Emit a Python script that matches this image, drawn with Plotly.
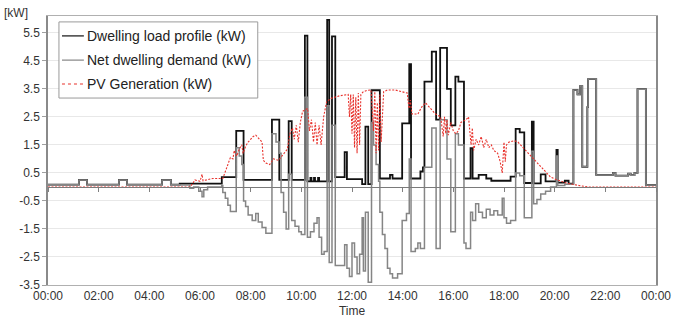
import plotly.graph_objects as go

# ---------------- data (hours of day, kW) ----------------
X_TICK_HOURS = [0, 2, 4, 6, 8, 10, 12, 14, 16, 18, 20, 22, 24]
X_TICK_LABELS = ["00:00", "02:00", "04:00", "06:00", "08:00", "10:00", "12:00",
                 "14:00", "16:00", "18:00", "20:00", "22:00", "00:00"]
Y_TICKS = [-3.5, -2.5, -1.5, -0.5, 0.5, 1.5, 2.5, 3.5, 4.5, 5.5]
Y_TICK_LABELS = ["-3.5", "-2.5", "-1.5", "-0.5", "0.5", "1.5", "2.5", "3.5", "4.5", "5.5"]
SERIES_NAMES = ["Dwelling load profile (kW)", "Net dwelling demand (kW)", "PV Generation (kW)"]

LOAD = [(0, 0.08), (1.22, 0.25), (1.54, 0.08), (2.80, 0.25), (3.12, 0.08), (4.50, 0.25),
        (4.85, 0.08), (5.20, 0.12), (6.86, 0.35), (7.43, 2.00), (7.72, 0.25), (8.84, 2.40),
        (9.13, 0.25), (9.50, 2.35), (9.62, 0.25), (10.14, 5.40), (10.24, 0.20), (10.36, 0.32),
        (10.40, 0.20), (10.50, 0.32), (10.54, 0.20), (10.66, 0.32), (10.70, 0.20), (11.02, 5.96),
        (11.10, 0.20), (11.21, 5.37), (11.34, 0.35), (11.71, 1.24), (11.80, 0.28), (12.40, 0.10),
        (12.53, 2.15), (12.64, 0.10), (12.77, 3.45), (13.10, 0.30), (13.50, 0.43), (13.60, 0.30),
        (13.98, 2.27), (14.26, 4.38), (14.33, 0.30), (14.70, 0.55), (14.80, 0.70), (14.86, 3.76),
        (15.15, 4.83), (15.32, 2.40), (15.48, 4.96), (15.75, 3.50), (15.90, 2.20), (16.08, 3.94),
        (16.20, 3.76), (16.42, 0.30), (16.68, 1.38), (16.76, 0.30), (17.00, 0.43), (17.30, 0.30),
        (17.50, 0.22), (18.26, 0.37), (18.46, 2.07), (18.62, 1.95), (18.80, 0.14), (19.10, 2.33),
        (19.17, 0.13), (19.45, 0.45), (19.64, 0.20), (20.07, 1.32), (20.12, 0.15), (20.40, 0.22),
        (20.55, 0.12), (20.74, 3.46), (20.90, 3.30), (21.00, 3.60), (21.09, 0.72), (21.29, 2.85),
        (21.32, 3.85), (21.64, 0.43), (22.30, 0.50), (22.40, 0.40), (22.90, 0.47), (23.00, 0.42),
        (23.15, 0.50), (23.27, 3.49), (23.60, 0.07), (24.0, 0.07)]

NET = [(0, 0.08), (1.22, 0.25), (1.54, 0.08), (2.80, 0.25), (3.12, 0.08), (4.50, 0.25),
       (4.85, 0.08), (5.20, 0.07), (5.60, -0.05), (5.75, 0.0), (5.95, -0.15), (6.08, -0.35),
       (6.15, -0.10), (6.30, 0.0), (6.86, 0.05), (6.90, -0.20), (7.00, -0.40), (7.10, -0.65),
       (7.20, -0.88), (7.43, 1.40), (7.55, 1.10), (7.65, 0.80), (7.72, -0.50), (7.80, -0.70),
       (7.90, -1.00), (8.06, -1.20), (8.20, -0.95), (8.30, -1.25), (8.45, -1.45), (8.60, -1.65),
       (8.84, 1.90), (9.00, 1.60), (9.13, 1.20), (9.20, -0.20), (9.30, -0.90), (9.40, -1.50),
       (9.50, 0.45), (9.62, -1.20), (9.75, -1.40), (9.90, -1.60), (10.00, -1.70), (10.14, 3.20),
       (10.24, -1.80), (10.36, -1.60), (10.50, -1.30), (10.62, -1.10), (10.70, -1.80), (10.80, -2.40),
       (10.90, -2.30), (11.02, 2.90), (11.10, -2.70), (11.21, 2.20), (11.34, -2.80), (11.71, -2.06),
       (11.80, -2.90), (11.90, -3.20), (12.00, -2.00), (12.10, -2.50), (12.20, -3.10), (12.30, -2.40),
       (12.40, -1.10), (12.45, -3.00), (12.53, -0.90), (12.64, -3.40), (12.77, 2.30), (12.85, 1.50),
       (12.95, 0.80), (13.05, 0.20), (13.10, -0.90), (13.20, -1.70), (13.30, -2.20), (13.40, -2.90),
       (13.50, -3.10), (13.60, -3.25), (13.80, -3.10), (13.98, -1.20), (14.15, -0.95), (14.26, 1.00),
       (14.33, -2.30), (14.50, -2.20), (14.60, -2.00), (14.70, -2.20), (14.86, 0.70), (15.15, 2.10),
       (15.32, -2.20), (15.48, 2.40), (15.75, 1.00), (15.90, -1.60), (16.08, 1.90), (16.20, 1.50),
       (16.42, -2.00), (16.50, -2.20), (16.68, -0.90), (16.76, -1.20), (16.88, -0.60), (17.00, -0.90),
       (17.15, -1.10), (17.30, -0.80), (17.45, -1.00), (17.60, -0.85), (17.75, -1.00), (17.93, -0.40),
       (18.00, -1.10), (18.10, -1.30), (18.26, -1.20), (18.46, 0.50), (18.62, 0.40), (18.80, -1.10),
       (19.10, 1.27), (19.17, -0.60), (19.30, -0.45), (19.45, -0.25), (19.64, -0.15), (19.84, 0.0),
       (20.07, 1.10), (20.12, 0.05), (20.40, 0.10), (20.55, 0.10), (20.74, 3.46), (20.90, 3.30),
       (21.00, 3.60), (21.09, 0.72), (21.29, 2.85), (21.32, 3.85), (21.64, 0.43), (22.30, 0.50),
       (22.40, 0.40), (22.90, 0.47), (23.00, 0.42), (23.15, 0.50), (23.27, 3.49), (23.60, 0.07),
       (24.0, 0.07)]

PV = [(0, 0.0), (5.60, 0.0), (5.70, 0.10), (5.80, 0.25), (6.00, 0.20), (6.08, 0.45), (6.12, 0.22),
      (6.50, 0.30), (6.90, 0.30), (7.00, 0.55), (7.10, 0.80), (7.20, 1.05), (7.30, 1.00), (7.35, 1.30),
      (7.45, 1.10), (7.55, 1.35), (7.65, 1.50), (7.70, 1.20), (7.80, 1.45), (7.90, 1.60), (8.10, 1.80),
      (8.20, 1.85), (8.35, 1.70), (8.45, 1.60), (8.50, 0.95), (8.60, 0.85), (8.75, 0.80), (8.90, 1.00),
      (9.10, 0.95), (9.30, 1.20), (9.45, 1.35), (9.55, 1.90), (9.65, 2.10), (9.72, 1.70), (9.80, 2.20),
      (9.88, 1.60), (9.96, 2.30), (10.05, 2.70), (10.25, 2.80), (10.32, 2.00), (10.40, 2.40),
      (10.48, 1.60), (10.55, 2.30), (10.62, 1.50), (10.70, 2.20), (10.78, 1.50), (10.88, 2.50),
      (11.00, 3.05), (11.20, 3.17), (11.50, 3.25), (11.85, 3.30), (11.90, 2.50), (11.95, 3.30),
      (12.00, 1.90), (12.05, 3.30), (12.10, 1.40), (12.15, 3.20), (12.20, 1.20), (12.25, 3.35),
      (12.30, 1.50), (12.35, 3.30), (12.45, 3.40), (12.60, 3.45), (12.75, 3.46), (12.85, 2.00),
      (12.90, 3.40), (12.95, 1.20), (13.00, 3.00), (13.05, 1.30), (13.10, 3.30), (13.15, 1.60),
      (13.25, 3.40), (13.40, 3.46), (13.70, 3.46), (14.00, 3.40), (14.18, 3.35), (14.25, 2.80),
      (14.30, 3.10), (14.37, 2.60), (14.60, 2.60), (14.75, 2.85), (14.90, 3.00), (15.10, 2.80),
      (15.30, 2.60), (15.50, 2.50), (15.60, 1.80), (15.65, 2.50), (15.70, 1.90), (15.75, 2.40),
      (15.80, 1.85), (15.90, 2.30), (16.00, 2.00), (16.10, 1.90), (16.20, 2.00), (16.30, 2.30),
      (16.50, 2.40), (16.60, 2.50), (16.70, 1.50), (16.75, 2.10), (16.80, 1.30), (16.90, 1.70),
      (17.00, 1.50), (17.10, 1.80), (17.20, 1.40), (17.30, 1.70), (17.40, 1.40), (17.50, 1.50),
      (17.60, 1.30), (17.75, 1.20), (17.85, 0.90), (17.93, 0.50), (18.00, 1.60), (18.05, 0.90),
      (18.10, 1.50), (18.20, 1.60), (18.40, 1.65), (18.55, 1.60), (19.10, 1.06), (19.50, 0.70),
      (19.84, 0.35), (20.10, 0.25), (20.50, 0.13), (21.03, 0.04), (21.30, 0.0), (24.0, 0.0)]

# ---------------- figure ----------------
FONT = "Arial, 'Liberation Sans', sans-serif"
Y_MIN, Y_MAX = -3.5, 6.1
COLORS = ["#111111", "#858585", "#e8322c"]
WIDTHS = [1.8, 1.5, 1.1]
DASHES = ["solid", "solid", "2px,1.5px"]
SHAPES = ["hv", "hv", "linear"]


def split(pairs):
    return [p[0] for p in pairs], [p[1] for p in pairs]


fig = go.Figure()
for pairs, name, col, w, d, sh in zip([LOAD, NET, PV], SERIES_NAMES, COLORS, WIDTHS, DASHES, SHAPES):
    xs, ys = split(pairs)
    fig.add_trace(go.Scatter(x=xs, y=ys, mode="lines", name=name,
                             line=dict(color=col, width=w, dash=d, shape=sh)))

# helper trace so the zero-crossing axis (with its tick marks) is rendered
fig.add_trace(go.Scatter(x=[0, 24], y=[None, None], xaxis="x2", mode="lines",
                         showlegend=False, hoverinfo="skip"))

zero_pos = (0 - Y_MIN) / (Y_MAX - Y_MIN)

# ---- hand-drawn legend (paper coordinates of the plot area) ----
shapes = [dict(type="rect", xref="paper", yref="paper", x0=0.018, x1=0.345, y0=0.695, y1=0.978,
               line=dict(color="#9a9a9a", width=1), fillcolor="white", layer="above")]
annotations = []
legend_rows = [0.926, 0.836, 0.747]
for yy, name, col, w, d in zip(legend_rows, SERIES_NAMES, COLORS, WIDTHS, DASHES):
    shapes.append(dict(type="line", xref="paper", yref="paper", x0=0.023, x1=0.059, y0=yy, y1=yy,
                       line=dict(color=col, width=1.2 if d == "solid" else 1.1,
                                 dash="solid" if d == "solid" else "dot"),
                       layer="above"))
    annotations.append(dict(text=name, xref="paper", yref="paper", x=0.061, y=yy,
                            xanchor="left", yanchor="middle", showarrow=False,
                            font=dict(family=FONT, size=14, color="#222222")))
annotations.append(dict(text="[kW]", xref="paper", yref="paper", x=-0.076, y=1.0,
                        xanchor="left", yanchor="bottom", showarrow=False, yshift=-6,
                        font=dict(size=12, color="#333333")))

fig.update_layout(
    width=695, height=329,
    margin=dict(l=48, r=39, t=16, b=44),
    paper_bgcolor="white", plot_bgcolor="white",
    font=dict(family=FONT, size=12, color="#333333"),
    showlegend=False,
    xaxis=dict(range=[0, 24], tickvals=X_TICK_HOURS, ticktext=X_TICK_LABELS,
               showgrid=False, zeroline=False, ticks="",
               showline=True, linecolor="#b0b0b0", linewidth=1, mirror=True,
               tickfont=dict(size=12, color="#333333"),
               title=dict(text="Time", font=dict(size=12, color="#333333"), standoff=4)),
    xaxis2=dict(range=[0, 24], overlaying="x", anchor="free", position=zero_pos,
                tickvals=X_TICK_HOURS, showticklabels=False, ticks="outside",
                ticklen=4, tickcolor="#808080", showgrid=False, zeroline=False,
                showline=True, linecolor="#7a7a7a", linewidth=1),
    yaxis=dict(range=[Y_MIN, Y_MAX], tickvals=Y_TICKS, ticktext=Y_TICK_LABELS,
               showgrid=True, gridcolor="#e8e8e8", gridwidth=1, zeroline=False,
               ticks="outside", ticklen=4, tickcolor="#a0a0a0",
               showline=True, linecolor="#8a8a8a", linewidth=1.5, mirror=True,
               tickfont=dict(size=12, color="#333333")),
    shapes=shapes,
    annotations=annotations,
)

fig.write_html("out.html")
